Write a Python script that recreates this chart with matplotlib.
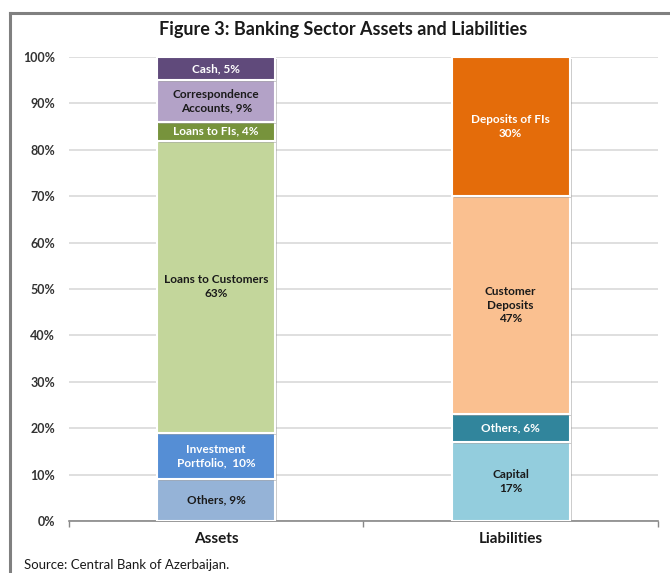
import matplotlib
matplotlib.use("Agg")
import matplotlib.pyplot as plt
from matplotlib.lines import Line2D
import matplotlib.patheffects as pe

plt.rcParams['font.family'] = ['Lato', 'DejaVu Sans']

categories = ["Assets", "Liabilities"]

asset_labels = ["Others, 9%", "Investment\nPortfolio,  10%", "Loans to Customers\n63%",
                "Loans to FIs, 4%", "Correspondence\nAccounts, 9%", "Cash, 5%"]
asset_values = [9, 10, 63, 4, 9, 5]
asset_colors = ["#95B3D7", "#558ED5", "#C3D69B", "#77933C", "#B3A2C7", "#604A7B"]
asset_text = ["#1a1a1a", "white", "#1a1a1a", "white", "#1a1a1a", "white"]

liab_labels = ["Capital\n17%", "Others, 6%", "Customer\nDeposits\n47%", "Deposits of FIs\n30%"]
liab_values = [17, 6, 47, 30]
liab_colors = ["#93CDDD", "#31859C", "#FAC090", "#E46C0A"]
liab_text = ["#1a1a1a", "white", "#1a1a1a", "white"]

yticks = [0, 10, 20, 30, 40, 50, 60, 70, 80, 90, 100]
ytick_labels = [f"{v}%" for v in yticks]

fig = plt.figure(figsize=(6.7, 5.73), dpi=100)
ax = fig.add_axes([0.103, 0.0908, 0.879, 0.8097])

bar_w = 0.40
shadow = [pe.SimplePatchShadow(offset=(1.5, -1.5), shadow_rgbFace="#999999", alpha=0.5), pe.Normal()]

def stack(x, values, colors, labels, tcolors):
    bottom = 0
    for v, c, lab, tc in zip(values, colors, labels, tcolors):
        ax.bar(x, v, bottom=bottom, width=bar_w, color=c, edgecolor="white",
               linewidth=1.5, zorder=3, path_effects=shadow)
        ax.text(x, bottom + v / 2, lab, ha="center", va="center", color=tc,
                fontsize=8.5, fontweight="bold", linespacing=1.3, zorder=4)
        bottom += v

stack(0, asset_values, asset_colors, asset_labels, asset_text)
stack(1, liab_values, liab_colors, liab_labels, liab_text)

ax.set_xlim(-0.5, 1.5)
ax.set_ylim(0, 100)
ax.set_yticks(yticks)
ax.set_yticklabels(ytick_labels, fontsize=9, fontweight="bold", color="#333333")
ax.set_xticks([0, 1])
ax.set_xticklabels(categories, fontsize=11, fontweight="bold", color="#1a1a1a")
ax.tick_params(axis="y", length=0, pad=10)
ax.tick_params(axis="x", length=0, pad=8)
ax.set_xticks([-0.5, 0.5, 1.5], minor=True)
ax.tick_params(axis="x", which="minor", length=4, color="#888888", width=1)
ax.yaxis.grid(True, color="#D9D9D9", linewidth=1.2, zorder=0)
ax.set_axisbelow(True)
for s in ["top", "right", "left"]:
    ax.spines[s].set_visible(False)
ax.spines["bottom"].set_color("#888888")
ax.spines["bottom"].set_linewidth(1.2)

fig.text(0.512, 0.949, "Figure 3: Banking Sector Assets and Liabilities", ha="center", va="center",
         fontsize=13, fontweight="bold", color="#1a1a1a")
fig.text(24 / 670, 1 - 565 / 573, "Source: Central Bank of Azerbaijan.", ha="left", va="center",
         fontsize=9.5, color="#1a1a1a")

# outer frame
fig.add_artist(Line2D([10 / 670, 1.0], [1 - 13 / 573, 1 - 13 / 573], transform=fig.transFigure,
                      color="#808080", linewidth=2.2))
fig.add_artist(Line2D([10 / 670, 10 / 670], [0, 1 - 13 / 573], transform=fig.transFigure,
                      color="#808080", linewidth=2.2))

fig.savefig("out.png", dpi=100)
